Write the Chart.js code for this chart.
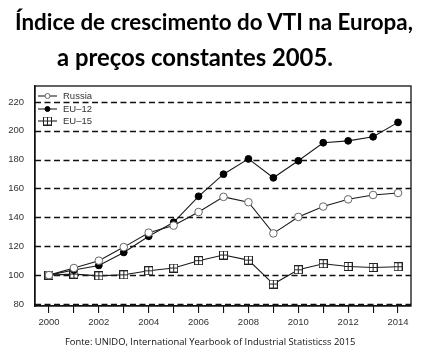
<!DOCTYPE html>
<html>
<head>
<meta charset="utf-8">
<script src="https://cdn.jsdelivr.net/npm/chart.js@4/dist/chart.umd.min.js"></script>
<style>
html,body{margin:0;padding:0;background:#fff;width:433px;height:356px;overflow:hidden;}
#wrap{position:relative;width:433px;height:356px;}
canvas{position:absolute;left:0;top:0;}
.t{position:absolute;font-family:Lato,"Open Sans",sans-serif;font-weight:bold;color:#000;white-space:nowrap;font-size:23px;line-height:23px;}
#src{position:absolute;font-family:"Open Sans",Lato,sans-serif;font-size:10px;color:#111;white-space:nowrap;line-height:10px;}
</style>
</head>
<body>
<div id="wrap">
<canvas id="c" width="433" height="356"></canvas>
<div class="t" id="t1">Índice de crescimento do VTI na Europa,</div>
<div class="t" id="t2">a preços constantes 2005.</div>
<div id="src">Fonte: UNIDO, International Yearbook of Industrial Statisticss 2015</div>
</div>
<script>
const years = [2000,2001,2002,2003,2004,2005,2006,2007,2008,2009,2010,2011,2012,2013,2014];
const russia = [100,104.9,110,119.4,129.4,134.3,143.7,154.2,150.5,128.9,140.3,147.5,152.5,155.5,156.9];
const eu12 = [100,103.5,106.7,115.7,126.9,136.6,154.6,169.9,180.5,167.4,179.2,191.7,193,195.8,205.8];
const eu15 = [100,100.7,99.5,100.2,103,104.9,110,113.9,110.4,93.8,103.7,107.9,106,105.3,105.8];
const seriesNames = ["Russia","EU\u201312","EU\u201315"];
const yTicks = [80,100,120,140,160,180,200,220];
const xTickLabels = ["2000","2002","2004","2006","2008","2010","2012","2014"];

function fit(id, left, width){
  const el=document.getElementById(id);
  const w=el.getBoundingClientRect().width;
  const fs=23*width/w;
  el.style.fontSize=fs+'px';
  el.style.lineHeight=fs+'px';
  el.style.left=left+'px';
}
fit('t1',15,398);
fit('t2',57,276);
document.getElementById('t1').style.top='11px';
document.getElementById('t2').style.top='45px';
(function(){
  const el=document.getElementById('src');
  const w=el.getBoundingClientRect().width;
  el.style.fontSize=(10*291/w)+'px';
  el.style.left='65px';
  el.style.top='337px';
})();

function squarePlus(){
  const c=document.createElement('canvas');
  c.width=9;c.height=9;
  const x=c.getContext('2d');
  x.fillStyle='#fff';x.fillRect(0,0,9,9);
  x.strokeStyle='#222';x.lineWidth=1;
  x.strokeRect(0.5,0.5,8,8);
  x.beginPath();x.moveTo(4.5,1);x.lineTo(4.5,8);x.moveTo(1,4.5);x.lineTo(8,4.5);x.stroke();
  return c;
}
const sq=squarePlus();

const gridPlugin={
  id:'dashGrid',
  beforeDatasetsDraw(chart){
    const a=chart.chartArea,ctx=chart.ctx,ys=chart.scales.y;
    ctx.save();ctx.strokeStyle='#111';ctx.lineWidth=1.3;ctx.setLineDash([6,3.5]);
    yTicks.forEach(v=>{
      const p=Math.round(ys.getPixelForValue(v))+0.5;
      ctx.beginPath();ctx.moveTo(a.left,p);ctx.lineTo(a.right,p);ctx.stroke();
    });
    ctx.restore();
  }
};
const legendPlugin={
  id:'insideLegend',
  afterDatasetsDraw(chart){
    const ctx=chart.ctx;
    const ys=[96,109,121];
    chart.data.datasets.forEach((ds,i)=>{
      const y=ys[i];
      ctx.save();
      ctx.strokeStyle='#222';ctx.lineWidth=1.1;
      ctx.beginPath();ctx.moveTo(38,y);ctx.lineTo(57,y);ctx.stroke();
      ctx.fillStyle=ds.pointBackgroundColor;ctx.strokeStyle=ds.pointBorderColor;ctx.lineWidth=1;
      Chart.helpers.drawPoint(ctx,{pointStyle:ds.pointStyle,radius:ds.legendRadius,rotation:0,borderWidth:1},47.5,y);
      ctx.fillStyle='#333';ctx.font='9.5px "Liberation Sans", Arial, sans-serif';
      ctx.textBaseline='middle';ctx.textAlign='left';
      ctx.fillText(ds.label,63,y+0.5);
      ctx.restore();
    });
  }
};
const boxPlugin={
  id:'box',
  afterDraw(chart){
    const a=chart.chartArea,ctx=chart.ctx;
    ctx.save();ctx.strokeStyle='#111';ctx.lineWidth=1.3;
    ctx.strokeRect(a.left,a.top,a.right-a.left,a.bottom-a.top);
    ctx.restore();
  }
};

function mk(label,data,style,bg,border,r,lr){
  return {label:label,data:years.map((y,i)=>({x:y,y:data[i]})),borderColor:'#1a1a1a',borderWidth:1.1,
    pointStyle:style,pointBackgroundColor:bg,pointBorderColor:border,pointBorderWidth:1,pointRadius:r,legendRadius:lr,fill:false,tension:0};
}

new Chart(document.getElementById('c'),{
  type:'line',
  data:{datasets:[
    mk(seriesNames[0],russia,'circle','#fff','#666',3.8,2.5),
    mk(seriesNames[1],eu12,'circle','#000','#000',3.4,2.5),
    mk(seriesNames[2],eu15,sq,'#fff','#222',4,4),
  ]},
  options:{
    responsive:false,animation:false,
    layout:{padding:{top:86,right:22,bottom:20,left:0}},
    plugins:{legend:{display:false},title:{display:false},tooltip:{enabled:false}},
    scales:{
      x:{type:'linear',min:1999.44,max:2014.52,
        afterBuildTicks(s){s.ticks=years.map(v=>({value:v}));},
        afterFit(s){s.height=30;},
        ticks:{autoSkip:false,maxRotation:0,padding:4,color:'#333',font:{family:'"Liberation Sans", Arial, sans-serif',size:9.5},
          callback(v){const t=String(v);return xTickLabels.includes(t)?t:'';}},
        grid:{drawOnChartArea:false,drawTicks:true,tickLength:7,color:'#111',lineWidth:1.1},
        border:{display:true,color:'#111',width:1.3}
      },
      y:{type:'linear',min:78.6,max:231,
        afterBuildTicks(s){s.ticks=yTicks.map(v=>({value:v}));},
        afterFit(s){s.width=35;},
        ticks:{padding:3,color:'#333',font:{family:'"Liberation Sans", Arial, sans-serif',size:9.5}},
        grid:{display:false},
        border:{display:true,color:'#111',width:1.3}
      }
    }
  },
  plugins:[gridPlugin,legendPlugin,boxPlugin]
});
</script>
</body>
</html>
